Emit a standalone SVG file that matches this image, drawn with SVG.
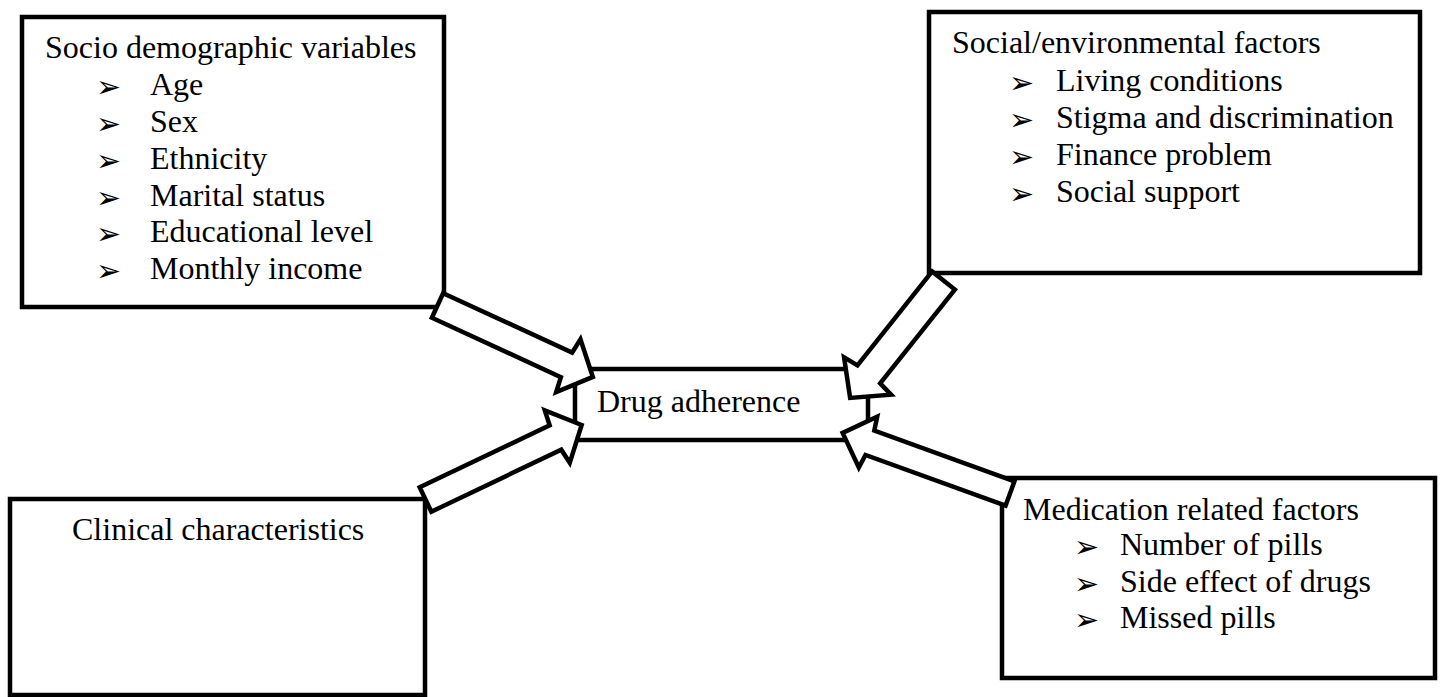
<svg xmlns="http://www.w3.org/2000/svg" width="1443" height="697" viewBox="0 0 1443 697">
<style>
.box{fill:#fff;stroke:#000;stroke-width:4.5}
.arr{fill:#fff;stroke:#000;stroke-width:4.5;stroke-linejoin:miter}
text{font-family:"Liberation Serif","Times New Roman",serif;font-size:32px;fill:#000}
.b{font-family:"DejaVu Sans",sans-serif;font-size:30px}
</style>
<rect width="1443" height="697" fill="#fff"/>
<g id="socio">
<rect class="box" x="22" y="17" width="422" height="290"/>
<text x="45" y="58">Socio demographic variables</text>
<text class="b" x="96" y="97">➢</text><text x="150" y="95">Age</text>
<text class="b" x="96" y="134">➢</text><text x="150" y="132">Sex</text>
<text class="b" x="96" y="171">➢</text><text x="150" y="169">Ethnicity</text>
<text class="b" x="96" y="208">➢</text><text x="150" y="206">Marital status</text>
<text class="b" x="96" y="244">➢</text><text x="150" y="242">Educational level</text>
<text class="b" x="96" y="281">➢</text><text x="150" y="279">Monthly income</text>
</g>
<g id="social">
<rect class="box" x="929" y="12" width="491" height="261"/>
<text x="952" y="53">Social/environmental factors</text>
<text class="b" x="1009" y="93">➢</text><text x="1056" y="91">Living conditions</text>
<text class="b" x="1009" y="130">➢</text><text x="1056" y="128">Stigma and discrimination</text>
<text class="b" x="1009" y="167">➢</text><text x="1056" y="165">Finance problem</text>
<text class="b" x="1009" y="204">➢</text><text x="1056" y="202">Social support</text>
</g>
<g id="drug">
<rect class="box" x="575" y="369" width="293" height="71"/>
<text x="597" y="412">Drug adherence</text>
</g>
<g id="clinical">
<rect class="box" x="10" y="499" width="415" height="196"/>
<text x="72" y="540">Clinical characteristics</text>
</g>
<g id="medication">
<rect class="box" x="1002" y="478" width="433" height="200"/>
<text x="1023" y="520">Medication related factors</text>
<text class="b" x="1074" y="557">➢</text><text x="1120" y="555">Number of pills</text>
<text class="b" x="1074" y="594">➢</text><text x="1120" y="592">Side effect of drugs</text>
<text class="b" x="1074" y="630">➢</text><text x="1120" y="628">Missed pills</text>
</g>
<g id="connectors">
<polygon class="arr" transform="translate(437.5,305.5) rotate(24.7)" points="0,-13.5 142,-13.5 144,-29 171,0 144,29 142,13.5 0,13.5"/>
<polygon class="arr" transform="translate(943.5,280.5) rotate(128.5)" points="0,-14.5 120,-14.5 122,-30 150,0 122,30 120,14.5 0,14.5"/>
<polygon class="arr" transform="translate(425.5,499.5) rotate(-25.5)" points="0,-13.5 144,-13.5 146,-29 173,0 146,29 144,13.5 0,13.5"/>
<polygon class="arr" transform="translate(1010,493.5) rotate(199.9)" points="0,-13 149,-13 151,-27 178,0 151,27 149,13 0,13"/>
</g>
</svg>
